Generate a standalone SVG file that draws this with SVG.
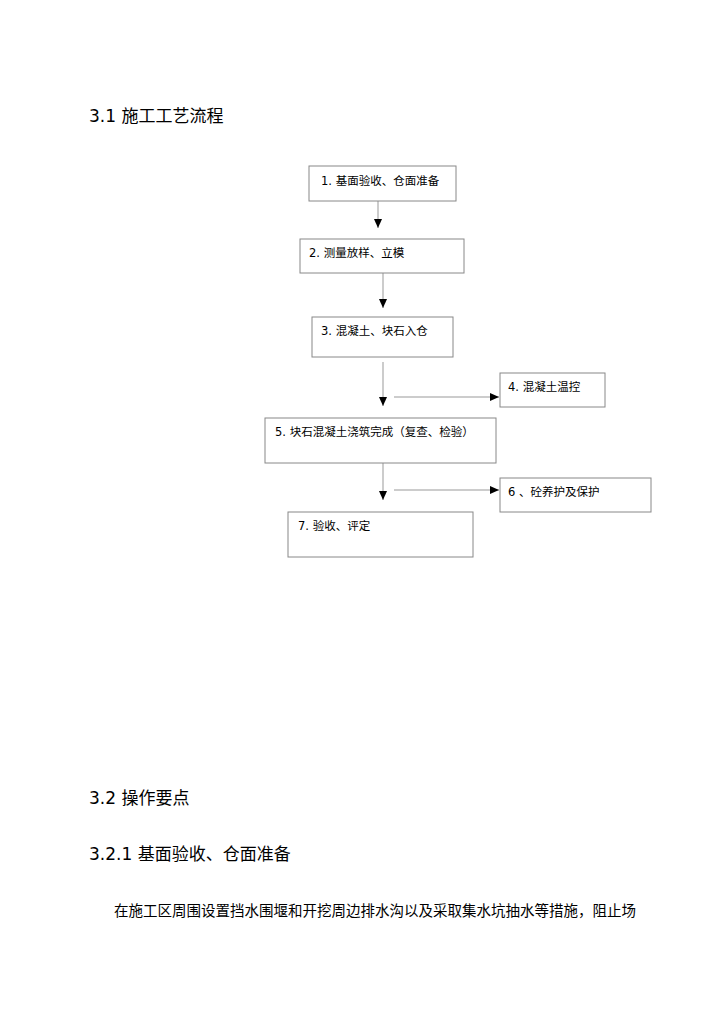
<svg xmlns="http://www.w3.org/2000/svg" width="724" height="1024" viewBox="0 0 724 1024">
<style>
text{font-family:"DejaVu Sans","Noto Sans CJK SC",sans-serif;fill:#000}
.b{fill:#fff;stroke:#888;stroke-width:1}
.s{fill:none;stroke:#ddd;stroke-width:1.5}
.t{font-size:11.5px}
.h{font-size:17px}
.p{font-size:14.5px}
.c{stroke:#999;stroke-width:1;fill:none}
</style>
<defs><marker id="a" markerWidth="10" markerHeight="10" refX="9" refY="4" orient="auto" markerUnits="userSpaceOnUse"><path d="M0,0L9,4L0,8z" fill="#000"/></marker></defs>
<rect width="724" height="1024" fill="#fff"/>
<text class="h" x="89" y="122">3.1 施工工艺流程</text>
<g id="connectors">
<path class="c" d="M378,201V228" marker-end="url(#a)"/>
<path class="c" d="M383,273V308" marker-end="url(#a)"/>
<path class="c" d="M383,362V406" marker-end="url(#a)"/>
<path class="c" d="M394,397H499" marker-end="url(#a)"/>
<path class="c" d="M383,457V500" marker-end="url(#a)"/>
<path class="c" d="M394,490H499" marker-end="url(#a)"/>
</g>
<g id="n1"><rect class="b" x="309" y="166" width="147" height="35"/><text class="t" x="321" y="185">1. 基面验收、仓面准备</text></g>
<g id="n2"><rect class="b" x="300" y="239" width="164" height="34"/><text class="t" x="309" y="257">2. 测量放样、立模</text></g>
<g id="n3"><rect class="b" x="312" y="317" width="141" height="40"/><text class="t" x="321" y="335">3. 混凝土、块石入仓</text></g>
<g id="n4"><rect class="b" x="500" y="373" width="105" height="34"/><text class="t" x="508" y="391">4. 混凝土温控</text></g>
<g id="n5"><rect class="b" x="265" y="418" width="231" height="45"/><text class="t" x="275" y="436">5. 块石混凝土浇筑完成（复查、检验）</text></g>
<g id="n6"><rect class="b" x="500" y="478" width="151" height="34"/><text class="t" x="508" y="496">6 、砼养护及保护</text></g>
<g id="n7"><rect class="b" x="288" y="512" width="185" height="45"/><text class="t" x="298" y="530">7. 验收、评定</text></g>
<text class="h" x="89" y="804">3.2 操作要点</text>
<text class="h" x="89" y="860">3.2.1 基面验收、仓面准备</text>
<text class="p" x="114" y="916">在施工区周围设置挡水围堰和开挖周边排水沟以及采取集水坑抽水等措施，阻止场</text>
</svg>
